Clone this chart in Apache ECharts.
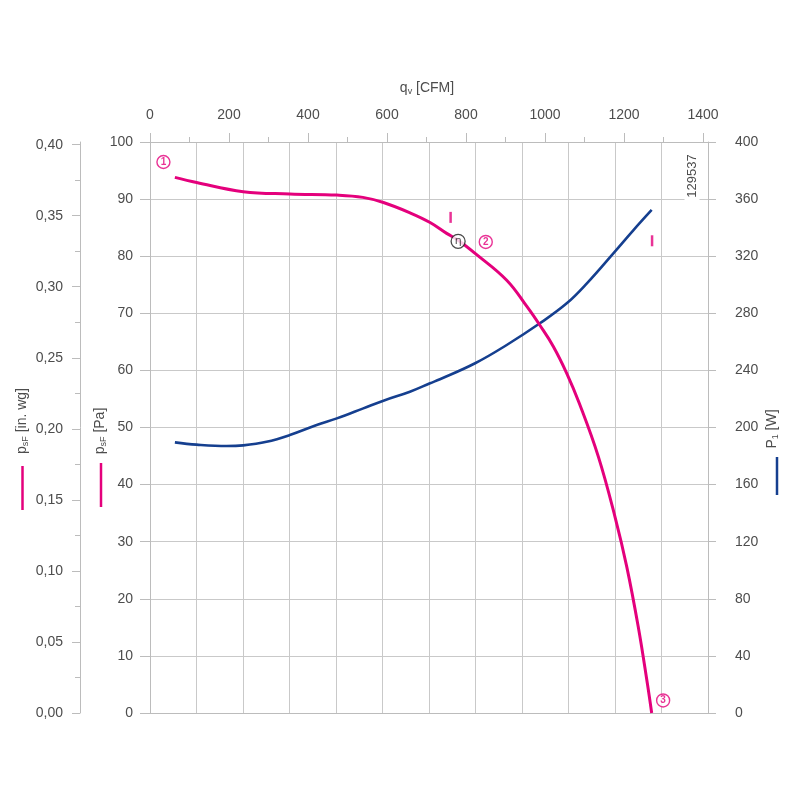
<!DOCTYPE html>
<html><head><meta charset="utf-8">
<script src="https://cdn.jsdelivr.net/npm/echarts@6/dist/echarts.min.js"></script>
<style>html,body{margin:0;padding:0;background:#fff}#c{width:800px;height:800px}</style>
</head><body><div id="c"></div>
<script>
// ---- data ----
const pressureCfm = [63,118,236,354,473,539,591,658,709,751,780,823,903,954,987,1021,1055,1087,1135,1177,1207,1236,1259,1270];
const pressurePa  = [93.8,92.9,91.3,90.9,90.7,90.3,89.4,87.6,85.9,84.0,82.8,80.5,75.8,71.2,67.9,64.2,59.5,54.2,44.9,34.4,25.6,15.1,5.2,0];
const powerCfm = [63,118,194,236,295,354,422,473,540,591,658,709,734,823,903,987,1055,1106,1173,1224,1270];
const powerW   = [189.6,188.0,187.0,187.5,190.0,194.7,201.7,206.4,213.4,218.8,225.1,231.0,233.8,245.0,257.8,273.0,287.0,301.0,322.0,338.3,352.4];
const cfmTicks = [0,200,400,600,800,1000,1200,1400];
const inwgTicks = [0,0.05,0.10,0.15,0.20,0.25,0.30,0.35,0.40];
const pointLabels = ['1','2','3'];
const pointCfm = [34,850,1299];
const pointPa  = [96.5,82.5,2.2];
const etaCfm = [780];
const etaPa  = [82.6];
const markCfm = [761,1271];
const markPa  = [86.8,82.7];
const M3H_MAX = 2400;
const M3H_PER_CFM = 1.699;
const PA_PER_INWG = 248.84;

const PINK = '#e4007c', BLUE = '#153f8f', TXT = '#4d4d4d', LINE = '#bcbcbc', GRID = '#c9c9c9';
const FONT = 'Liberation Sans, Arial, sans-serif';
const lbl = (o) => Object.assign({color: TXT, fontSize: 14, fontFamily: FONT}, o);
const ls = {lineStyle: {color: LINE, width: 1}};
const al = {show: true, onZero: false, lineStyle: {color: LINE, width: 1}};

const chart = echarts.init(document.getElementById('c'), null, {renderer: 'canvas'});
const cfmMax = M3H_MAX / M3H_PER_CFM;
const inwgMax = 100 / PA_PER_INWG;
const near = (v, step) => Math.abs(v / step - Math.round(v / step)) < 1e-3;
const fmtComma = v => near(v, 0.05) ? v.toFixed(2).replace('.', ',') : '';
const fmtPlain = v => String(v);
const richName = {m: {fontSize: 14, fill: TXT, fontFamily: FONT, lineHeight: 17}, s: {fontSize: 9, fill: TXT, fontFamily: FONT, lineHeight: 9, verticalAlign: 'bottom'}};

chart.setOption({
  animation: false,
  backgroundColor: '#fff',
  textStyle: {fontFamily: FONT},
  grid: [
    {left: 150, top: 142, width: 558, height: 571, containLabel: false},
    {left: 80, top: 142, width: 628, height: 571, containLabel: false}
  ],
  xAxis: [
    {type: 'value', gridIndex: 0, position: 'top', min: 0, max: cfmMax, interval: 200,
     axisLine: al, axisTick: {show: true, length: 9, customValues: cfmTicks, ...ls},
     minorTick: {show: true, splitNumber: 2, length: 5, ...ls},
     axisLabel: lbl({customValues: cfmTicks, margin: 20, formatter: fmtPlain}), splitLine: {show: false}, minorSplitLine: {show: false}},
    {type: 'value', gridIndex: 0, position: 'bottom', min: 0, max: M3H_MAX, interval: 200,
     axisLine: al, axisTick: {show: false}, axisLabel: {show: false},
     splitLine: {show: true, lineStyle: {color: GRID, width: 1}}},
    {type: 'value', gridIndex: 1, position: 'bottom', min: 0, max: 1, show: false}
  ],
  yAxis: [
    {type: 'value', gridIndex: 0, position: 'left', min: 0, max: 100, interval: 10,
     axisLine: al, axisTick: {show: true, length: 10, ...ls},
     axisLabel: lbl({margin: 17, formatter: fmtPlain}), splitLine: {show: true, lineStyle: {color: GRID, width: 1}}},
    {type: 'value', gridIndex: 0, position: 'right', min: 0, max: 400, interval: 40,
     axisLine: al, axisTick: {show: true, length: 8, ...ls},
     axisLabel: lbl({margin: 27, formatter: fmtPlain}), splitLine: {show: false}},
    {type: 'value', gridIndex: 1, position: 'left', min: 0, max: inwgMax, interval: 0.05,
     axisLine: al, axisTick: {show: true, length: 8, customValues: inwgTicks, ...ls},
     minorTick: {show: true, splitNumber: 2, length: 5, ...ls},
     axisLabel: lbl({customValues: inwgTicks, formatter: fmtComma, margin: 17}), splitLine: {show: false}, minorSplitLine: {show: false}}
  ],
  series: [
    {type: 'line', xAxisIndex: 0, yAxisIndex: 1, smooth: 0.4, symbol: 'none',
     data: powerCfm.map((x, i) => [x, powerW[i]]), lineStyle: {color: BLUE, width: 2.6}, z: 3},
    {type: 'line', xAxisIndex: 0, yAxisIndex: 0, smooth: 0.4, symbol: 'none',
     data: pressureCfm.map((x, i) => [x, pressurePa[i]]), lineStyle: {color: PINK, width: 3}, z: 4},
    {type: 'scatter', xAxisIndex: 0, yAxisIndex: 0, symbol: 'circle', symbolSize: 13, z: 6,
     data: pointLabels.map((n, i) => ({name: n, value: [pointCfm[i], pointPa[i]]})),
     itemStyle: {color: '#fff', borderColor: PINK, borderWidth: 1.4},
     label: {show: true, position: 'inside', formatter: '{b}', color: PINK, fontSize: 10, fontWeight: 'bold', fontFamily: FONT}},
    {type: 'scatter', xAxisIndex: 0, yAxisIndex: 0, symbol: 'circle', symbolSize: 14, z: 6,
     data: etaCfm.map((x, i) => ({name: 'η', value: [x, etaPa[i]]})),
     itemStyle: {color: '#fff', borderColor: '#1a1a1a', borderWidth: 1.3},
     label: {show: true, position: 'inside', formatter: '{b}', color: '#1a1a1a', fontSize: 11, fontFamily: 'DejaVu Sans'}},
    {type: 'scatter', xAxisIndex: 0, yAxisIndex: 0, symbol: 'rect', symbolSize: [2.5, 11], z: 6,
     data: markCfm.map((x, i) => [x, markPa[i]]), itemStyle: {color: PINK}}
  ],
  graphic: [
    {type: 'text', x: 427, y: 88, style: {text: '{m|q}{s|v}{m| [CFM]}', align: 'center', verticalAlign: 'middle', rich: richName}},
    {type: 'text', x: 22, y: 421, rotation: Math.PI / 2, style: {text: '{m|p}{s|sF}{m| [in. wg]}', align: 'center', verticalAlign: 'middle', rich: richName}},
    {type: 'text', x: 100, y: 431, rotation: Math.PI / 2, style: {text: '{m|p}{s|sF}{m| [Pa]}', align: 'center', verticalAlign: 'middle', rich: richName}},
    {type: 'text', x: 772, y: 429, rotation: Math.PI / 2, style: {text: '{m|P}{s|1}{m| [W]}', align: 'center', verticalAlign: 'middle', rich: richName}},
    {type: 'line', shape: {x1: 22.5, y1: 466, x2: 22.5, y2: 510}, style: {stroke: PINK, lineWidth: 2.5}},
    {type: 'line', shape: {x1: 101, y1: 463, x2: 101, y2: 507}, style: {stroke: PINK, lineWidth: 2.5}},
    {type: 'line', shape: {x1: 777, y1: 457, x2: 777, y2: 495}, style: {stroke: BLUE, lineWidth: 2.5}},
    {type: 'text', x: 692, y: 176, rotation: Math.PI / 2, z: 10, style: {text: '129537', align: 'center', verticalAlign: 'middle',
      fontSize: 13, fontFamily: FONT, fill: TXT, backgroundColor: '#fff', padding: [1, 3]}}
  ]
});
</script></body></html>
